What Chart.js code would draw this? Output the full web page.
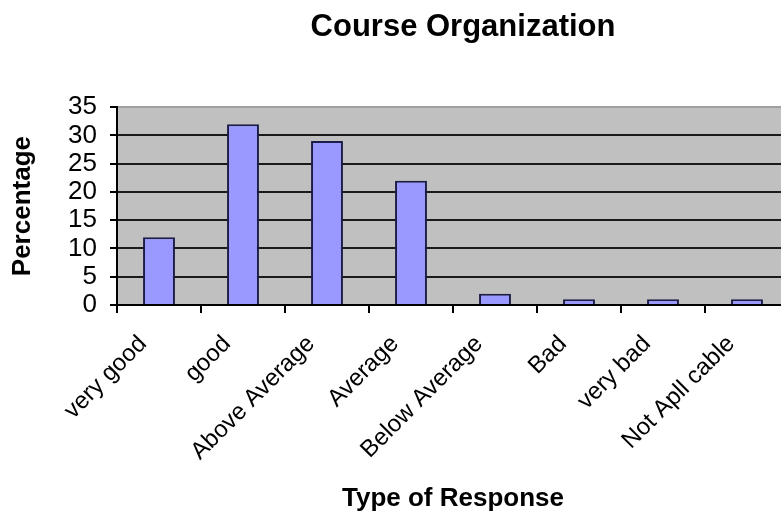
<!DOCTYPE html>
<html>
<head>
<meta charset="utf-8">
<script src="https://cdn.jsdelivr.net/npm/chart.js@4"></script>
<style>
    html, body { margin: 0; padding: 0; overflow: hidden; background: #fff; }
    #wrap { width: 926px; height: 516px; }
</style>
</head>
<body>
<div id="wrap"><canvas id="courseChart"></canvas></div>
<script>
// Datos del gráfico
const responseTypes = ["very good", "good", "Above Average", "Average", "Below Average", "Bad", "very bad", "Not Apll cable"];
const percentages = [12, 32, 29, 22, 2, 1, 1, 1];
const yTicks = { min: 0, max: 35, step: 5 };

// Fondo gris del área de trazado
const plotBackground = {
    id: "plotBackground",
    beforeDraw(chart) {
        const { ctx, chartArea } = chart;
        ctx.save();
        ctx.fillStyle = "#c0c0c0";
        ctx.fillRect(chartArea.left, chartArea.top, chartArea.right - chartArea.left, chartArea.bottom - chartArea.top);
        ctx.restore();
    },
};

const ctx = document.getElementById("courseChart").getContext("2d");
new Chart(ctx, {
    type: "bar",
    data: {
        labels: responseTypes,
        datasets: [
            {
                data: percentages,
                backgroundColor: "#9999ff",
                borderColor: "#1c1c48",
                borderWidth: 2,
                categoryPercentage: 1,
                barPercentage: 0.38,
            },
        ],
    },
    options: {
        responsive: true,
        maintainAspectRatio: false,
        animation: false,
        layout: { padding: 0 },
        plugins: {
            legend: { display: false },
            tooltip: { enabled: false },
            title: {
                display: true,
                text: "Course Organization",
                color: "#000",
                font: { family: "Liberation Sans", size: 31, weight: "bold" },
                padding: { top: 9, bottom: 61 },
            },
        },
        scales: {
            x: {
                grid: {
                    offset: true,
                    drawOnChartArea: false,
                    drawTicks: true,
                    tickLength: 8,
                    tickColor: "#000",
                    lineWidth: 2,
                },
                border: { color: "#000", width: 2 },
                ticks: {
                    autoSkip: false,
                    minRotation: 45,
                    maxRotation: 45,
                    labelOffset: -16,
                    padding: 17,
                    color: "#000",
                    font: { family: "Liberation Sans", size: 24 },
                },
                title: {
                    display: true,
                    text: "Type of Response",
                    color: "#000",
                    font: { family: "Liberation Sans", size: 26, weight: "bold" },
                    padding: { top: 4, bottom: 2 },
                },
                afterFit(scale) { scale.height = 211; },
            },
            y: {
                min: yTicks.min,
                max: yTicks.max,
                grid: {
                    color: (c) => (c.tick && c.tick.value === yTicks.max ? "#a0a0a0" : "#1a1a1a"),
                    tickColor: "#000",
                    tickLength: 7,
                    lineWidth: 2,
                },
                border: { color: "#000", width: 2 },
                ticks: {
                    autoSkip: false,
                    stepSize: yTicks.step,
                    padding: 13,
                    color: "#000",
                    font: { family: "Liberation Sans", size: 26 },
                },
                title: {
                    display: true,
                    text: "Percentage",
                    color: "#000",
                    font: { family: "Liberation Sans", size: 26, weight: "bold" },
                    padding: { top: 7, bottom: 30 },
                },
                afterFit(scale) { scale.width = 117; },
            },
            yRight: {
                position: "right",
                display: true,
                grid: { display: false },
                border: { display: false },
                ticks: { display: false },
                afterFit(scale) { scale.width = 926 - 789; },
            },
        },
    },
    plugins: [plotBackground],
});
</script>
</body>
</html>
